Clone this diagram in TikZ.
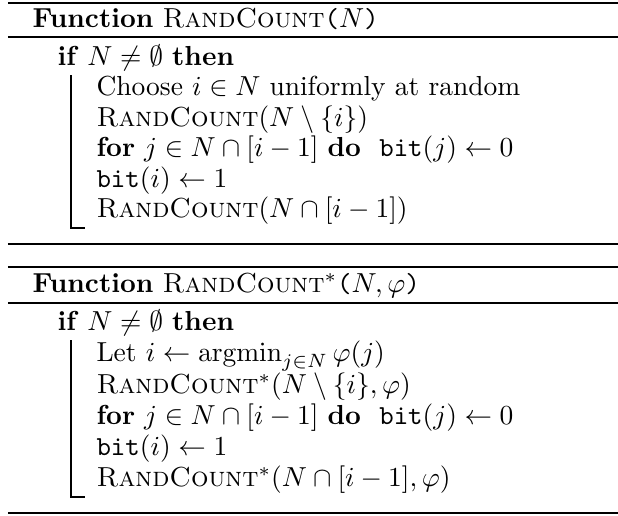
\documentclass[tikz,border=0pt]{standalone}
\usepackage{amsmath}
\usepackage{amssymb}
\usepackage{tikz}
\usetikzlibrary{positioning, calc}

\newcommand{\rc}{\textsc{RandCount}}
\newcommand{\bitv}{\texttt{bit}}

\tikzset{
    algline/.style={anchor=base west, inner sep=0pt, font=\normalsize},
    algrule/.style={line width=0.7pt},
    algsubrule/.style={line width=0.7pt},
    algbar/.style={line width=0.4pt}
}

\begin{document}
\begin{tikzpicture}[x=0.3636pt, y=-0.3636pt]
    \useasboundingbox (0,0) rectangle (618,515);

    % first function
    \draw[algrule] (8,3) -- (618,3);
    \node[algline] (headA) at (32,27) {\textbf{Function} \rc\texttt{(}$N$\texttt{)}};
    \draw[algsubrule] (8,37) -- (618,37);
    \node[algline] (ifA) at (57,65) {\textbf{if} $N \neq \emptyset$ \textbf{then}};
    \node[algline] (a1) at (96,95) {Choose $i \in N$ uniformly at random};
    \node[algline] (a2) at (96,126) {\rc$(N \setminus \{i\})$};
    \node[algline] (a3) at (96,156) {\textbf{for} $j \in N \cap [i-1]$ \textbf{do}\ \ \bitv$(j) \leftarrow 0$};
    \node[algline] (a4) at (96,187) {\bitv$(i) \leftarrow 1$};
    \node[algline] (a5) at (96,217) {\rc$(N \cap [i-1])$};
    \coordinate (barAtop) at (71,75);
    \coordinate (barAbot) at (71,228);
    \draw[algbar] (barAtop) -- (barAbot) -- ++(14,0);
    \draw[algrule] (8,244) -- (618,244);

    % second function
    \draw[algrule] (8,267) -- (618,267);
    \node[algline] (headB) at (32,292) {\textbf{Function} \rc$^*$\texttt{(}$N,\varphi$\texttt{)}};
    \draw[algsubrule] (8,303) -- (618,303);
    \node[algline] (ifB) at (57,330) {\textbf{if} $N \neq \emptyset$ \textbf{then}};
    \node[algline] (b1) at (96,361) {Let $i \leftarrow \operatorname{argmin}_{j \in N} \varphi(j)$};
    \node[algline] (b2) at (96,393) {\rc$^*(N \setminus \{i\}, \varphi)$};
    \node[algline] (b3) at (96,424) {\textbf{for} $j \in N \cap [i-1]$ \textbf{do}\ \ \bitv$(j) \leftarrow 0$};
    \node[algline] (b4) at (96,455) {\bitv$(i) \leftarrow 1$};
    \node[algline] (b5) at (96,486) {\rc$^*(N \cap [i-1], \varphi)$};
    \coordinate (barBtop) at (71,340);
    \coordinate (barBbot) at (71,497);
    \draw[algbar] (barBtop) -- (barBbot) -- ++(14,0);
    \draw[algrule] (8,513) -- (618,513);
\end{tikzpicture}
\end{document}
